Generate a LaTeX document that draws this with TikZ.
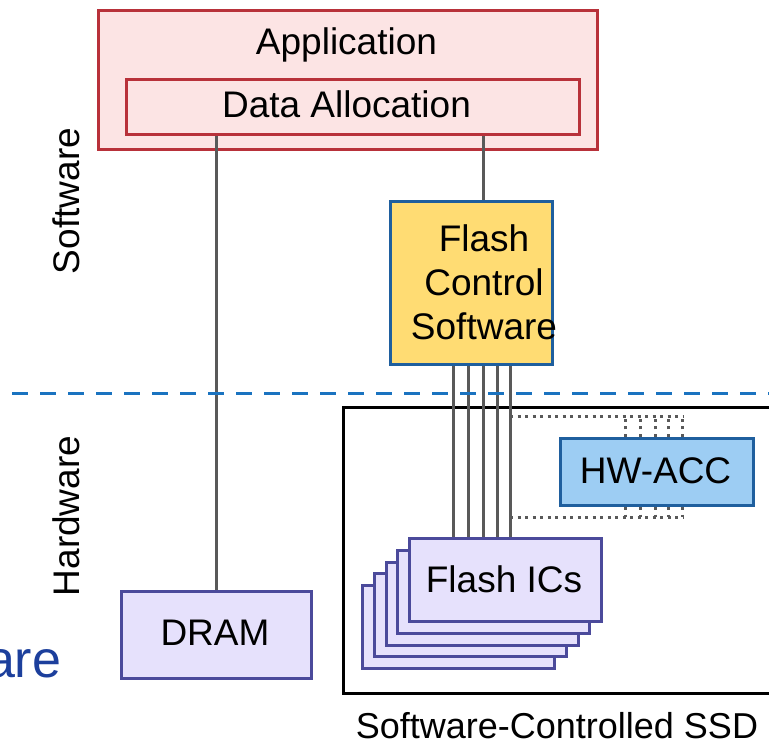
\documentclass[tikz,border=0pt]{standalone}
\usepackage{fontspec}
\setmainfont{Liberation Sans}
\usetikzlibrary{positioning}
\definecolor{appline}{HTML}{B8313A}
\definecolor{appfill}{HTML}{FCE4E4}
\definecolor{ctrlline}{HTML}{1F5F9E}
\definecolor{ctrlfill}{HTML}{FFDC73}
\definecolor{accfill}{HTML}{9DCDF3}
\definecolor{chipline}{HTML}{4B4A9B}
\definecolor{chipfill}{HTML}{E6E1FC}
\definecolor{wiregray}{HTML}{595959}
\definecolor{splitblue}{HTML}{1A73C0}
\definecolor{noteblue}{HTML}{1C3F9C}
\begin{document}
\begin{tikzpicture}
[x=1pt, y=-1pt, line width=3pt, font=\fontsize{37}{44}\selectfont]
\tikzstyle{box}=[rectangle, draw, inner sep=0pt, anchor=north west]
\tikzstyle{appbox}=[box, draw=appline, fill=appfill]
\tikzstyle{ctrlbox}=[box, draw=ctrlline, fill=ctrlfill]
\tikzstyle{accbox}=[box, draw=ctrlline, fill=accfill]
\tikzstyle{chipbox}=[box, draw=chipline, fill=chipfill]
\tikzstyle{ssdbox}=[box, draw=black]
\tikzstyle{wire}=[draw=wiregray]
\tikzstyle{link}=[draw=wiregray, dash pattern=on 3.2pt off 4.3pt, line width=3pt]
\tikzstyle{divider}=[draw=splitblue, dash pattern=on 16pt off 12pt]
\useasboundingbox (0,0) rectangle (769,743);

% software side
\node[appbox, minimum width=499pt, minimum height=139pt]	(app)	at (97,9) {};
\node[anchor=base]	(apptext)	at (346.5,55) {Application};
\node[appbox, minimum width=453pt, minimum height=55pt]	(alloc)	at (125,78) {};
\node[anchor=base]	(alloctext)	at (346.5,118) {Data Allocation};
\node[ctrlbox, minimum width=162pt, minimum height=163pt]	(fcs)	at (389,200) {};
\node[align=center]	(fcstext)	at (484,282) {Flash\\Control\\Software};

% hardware side
\node[ssdbox, minimum width=440pt, minimum height=286pt]	(ssd)	at (342,406) {};
\node[anchor=base, font=\fontsize{36}{40}\selectfont]	(ssdtext)	at (557,738) {Software-Controlled SSD};
\node[chipbox, minimum width=190pt, minimum height=87pt]	(dram)	at (120,590) {};
\node[anchor=base]	(dramtext)	at (215,645) {DRAM};
\foreach \i in {4,3,2,1}
	\node[chipbox, minimum width=192pt, minimum height=83pt]	(ics\i)	at (408-11.75*\i,537+11.75*\i) {};
\node[chipbox, minimum width=192pt, minimum height=83pt]	(ics)	at (408,537) {};
\node[anchor=base]	(icstext)	at (504,592) {Flash ICs};
\node[accbox, minimum width=193pt, minimum height=67pt]	(acc)	at (559,437) {};
\node[anchor=base]	(acctext)	at (655.5,483) {HW-ACC};

% side labels
\node[rotate=90]	(swlabel)	at (66,201) {Software};
\node[rotate=90]	(hwlabel)	at (66,516) {Hardware};
\node[anchor=base east, text=noteblue, font=\fontsize{52}{60}\selectfont]	(note)	at (66,677) {are};

% connections
\draw[wire] (alloc.south -| dram.north) -- (dram.north);
\draw[wire] (alloc.south -| 483,0) -- (fcs.north -| 483,0);
\foreach \x in {453,468,483,497,510}
	\draw[wire] (fcs.south -| \x,0) -- (ics.north -| \x,0);
\coordinate (tapT) at (510,417);
\coordinate (tapB) at (510,517);
\draw[link] (tapT) -- ++(173,0);
\draw[link] (tapB) -- ++(173,0);
\foreach \x in {625,640,655,668,682} {
	\draw[link] (acc.north -| \x,0) -- (tapT -| \x,0);
	\draw[link] (acc.south -| \x,0) -- (tapB -| \x,0);
}

% software / hardware split
\coordinate (splitL) at (12,394);
\coordinate (splitR) at (780,394);
\draw[divider] (splitL) -- (splitR);
\end{tikzpicture}
\end{document}
